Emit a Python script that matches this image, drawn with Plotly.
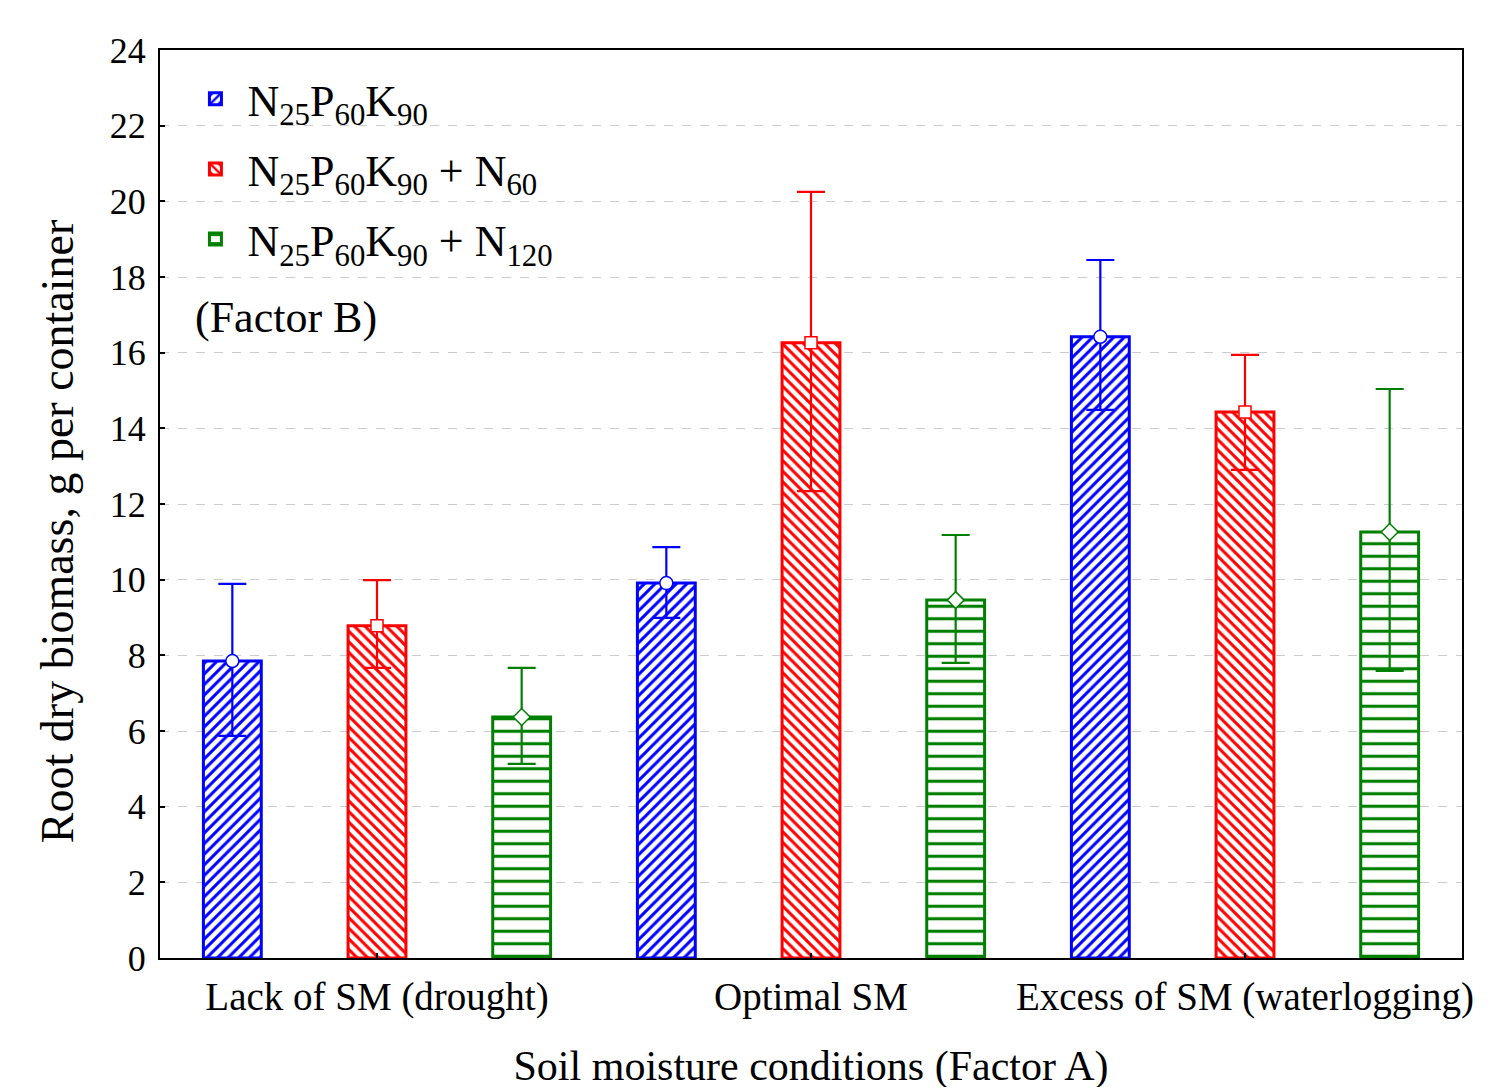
import plotly.graph_objects as go

categories = ["Lack of SM (drought)", "Optimal SM", "Excess of SM (waterlogging)"]
series_names = [
    "N<sub>25</sub>P<sub>60</sub>K<sub>90</sub>",
    "N<sub>25</sub>P<sub>60</sub>K<sub>90</sub> + N<sub>60</sub>",
    "N<sub>25</sub>P<sub>60</sub>K<sub>90</sub> + N<sub>120</sub>",
]
# means, upper and lower limits per series (order: drought, optimal, excess)
means = [
    [7.85, 9.91, 16.42],
    [8.78, 16.26, 14.43],
    [6.37, 9.46, 11.26],
]
upper = [
    [9.89, 10.86, 18.45],
    [9.99, 20.25, 15.94],
    [7.67, 11.18, 15.04],
]
lower = [
    [5.87, 8.99, 14.49],
    [7.67, 12.34, 12.90],
    [5.13, 7.80, 7.59],
]
y_ticks = list(range(0, 25, 2))

colors = ["#0000ff", "#ff0000", "#008000"]
shapes = ["/", "\\", "-"]
psize = [7.5, 7.5, 12.5]
psol = [0.4, 0.4, 0.25]
msym = ["circle", "square", "diamond"]
msize = [13, 12, 13]

FONT = "Liberation Serif"
n_ser = len(series_names)

fig = go.Figure()
for s in range(n_ser):
    xs = [g * n_ser + s for g in range(len(categories))]
    fig.add_trace(go.Bar(
        x=xs, y=means[s], name=series_names[s], width=0.4,
        legendgroup=f"g{s}",
        marker=dict(color="white", line=dict(color=colors[s], width=3),
                    pattern=dict(shape=shapes[s], fgcolor=colors[s], bgcolor="white",
                                 fgopacity=1, size=psize[s], solidity=psol[s],
                                 fillmode="overlay")),
        error_y=dict(type="data", symmetric=False,
                     array=[u - m for u, m in zip(upper[s], means[s])],
                     arrayminus=[m - l for m, l in zip(means[s], lower[s])],
                     color=colors[s], thickness=2.2, width=14),
    ))
for s in range(n_ser):
    xs = [g * n_ser + s for g in range(len(categories))]
    fig.add_trace(go.Scatter(
        x=xs, y=means[s], mode="markers", showlegend=False, hoverinfo="skip",
        marker=dict(symbol=msym[s], size=msize[s], color="white",
                    line=dict(color=colors[s], width=1.5)),
    ))

fig.update_layout(
    width=1498, height=1087,
    margin=dict(l=152, r=44, t=42, b=137),
    paper_bgcolor="white", plot_bgcolor="white",
    font=dict(family=FONT, color="black", size=36),
    barmode="overlay",
    legend=dict(x=0.018, y=0.985, xanchor="left", yanchor="top",
                font=dict(size=44, family=FONT), bgcolor="rgba(0,0,0,0)",
                tracegroupgap=10, itemwidth=54),
    annotations=[
        dict(text="(Factor B)", xref="paper", yref="paper",
             x=0.025, y=0.705, xanchor="left", yanchor="middle",
             showarrow=False, font=dict(size=44, family=FONT)),
        dict(text="Root dry biomass, g per container", xref="paper", yref="paper",
             x=0, y=0.469, xanchor="center", yanchor="middle", xshift=-103,
             textangle=-90, showarrow=False, font=dict(size=46, family=FONT)),
    ],
)
fig.update_xaxes(
    range=[-0.5, n_ser * len(categories) - 0.5],
    tickvals=[g * n_ser + (n_ser - 1) / 2 for g in range(len(categories))],
    ticktext=categories, tickfont=dict(size=39),
    ticks="inside", ticklen=5, tickwidth=2, tickcolor="black",
    ticklabelstandoff=3,
    showline=True, linecolor="black", linewidth=2, mirror=True,
    showgrid=False, zeroline=False,
    title=dict(text="Soil moisture conditions (Factor A)", font=dict(size=42), standoff=33),
)
fig.update_yaxes(
    range=[0, 24], tickvals=y_ticks, tickfont=dict(size=36),
    ticks="inside", ticklen=5, tickwidth=2, tickcolor="black",
    ticklabelstandoff=5,
    showline=True, linecolor="black", linewidth=2, mirror=True,
    showgrid=True, gridcolor="#cccccc", griddash="dash", gridwidth=1,
    zeroline=False,
)

fig.write_html("out.html")
